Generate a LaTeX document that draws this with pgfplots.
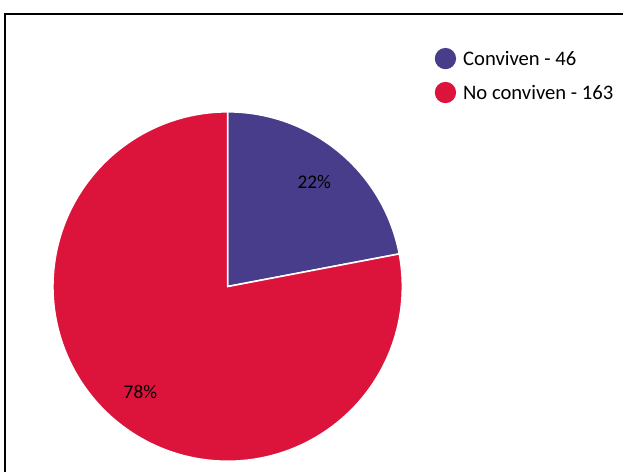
\documentclass[border=0pt]{standalone}
\usepackage{pgfplots}
\pgfplotsset{compat=1.18}
\usepackage{fontspec}
\setmainfont{Carlito}
\definecolor{purp}{HTML}{483D8B}
\definecolor{crim}{HTML}{DC143C}
\begin{document}
\begin{tikzpicture}
% slice values
\def\va{46}
\def\vb{163}
\pgfmathsetmacro{\tot}{\va+\vb}
\pgfmathsetmacro{\fa}{\va/\tot}
\pgfmathsetmacro{\fb}{\vb/\tot}
\pgfmathsetmacro{\angA}{90-360*\fa}
\pgfmathsetmacro{\angB}{\angA-360*\fb}
\pgfmathsetmacro{\midA}{(90+\angA)/2}
\pgfmathsetmacro{\midB}{(\angA+\angB)/2}
\pgfmathtruncatemacro{\pa}{round(100*\fa)}
\pgfmathtruncatemacro{\pb}{round(100*\fb)}
\begin{axis}[
  scale only axis, width=468pt, height=354.75pt,
  xmin=0, xmax=624, ymin=0, ymax=473,
  hide axis, clip=false,
  legend style={draw=none, fill=none, at={(axis cs:435.5,425)}, anchor=north west,
    font=\fontsize{15.5}{18}\selectfont, row sep=9.5pt, column sep=0pt,
    inner sep=0pt, outer sep=0pt,
    nodes={inner sep=0pt, outer sep=0pt}},
  legend cell align=left,
  legend image code/.code={\fill[#1,draw=none] (0pt,0.8pt) circle (8pt); \path[draw=none,fill=none] (8pt,0.8pt) -- (13.3pt,0.8pt);},
]
\path (axis cs:0,0) rectangle (axis cs:624,473);
\addplot[fill=purp, draw=white, line width=1.2pt, domain=\angA:90, samples=120, variable=\t, forget plot]
  ({228+175*cos(\t)},{186+175*sin(\t)}) -- (axis cs:228,186) -- cycle;
\addplot[fill=crim, draw=white, line width=1.2pt, domain=\angB:\angA, samples=300, variable=\t, forget plot]
  ({228+175*cos(\t)},{186+175*sin(\t)}) -- (axis cs:228,186) -- cycle;
\addlegendimage{fill=purp}
\addlegendentry{Conviven - 46}
\addlegendimage{fill=crim}
\addlegendentry{No conviven - 163}
\node[font=\fontsize{14.5}{17}\selectfont] at (axis cs:{228+136*cos(\midA)},{186+136*sin(\midA)}) {\pa\%};
\node[font=\fontsize{14.5}{17}\selectfont] at (axis cs:{228+137*cos(\midB)},{186+137*sin(\midB)}) {\pb\%};
\draw[black, line width=1.5pt] (axis cs:5,0) -- (axis cs:5,459) -- (axis cs:624,459);
\end{axis}
\end{tikzpicture}
\end{document}
